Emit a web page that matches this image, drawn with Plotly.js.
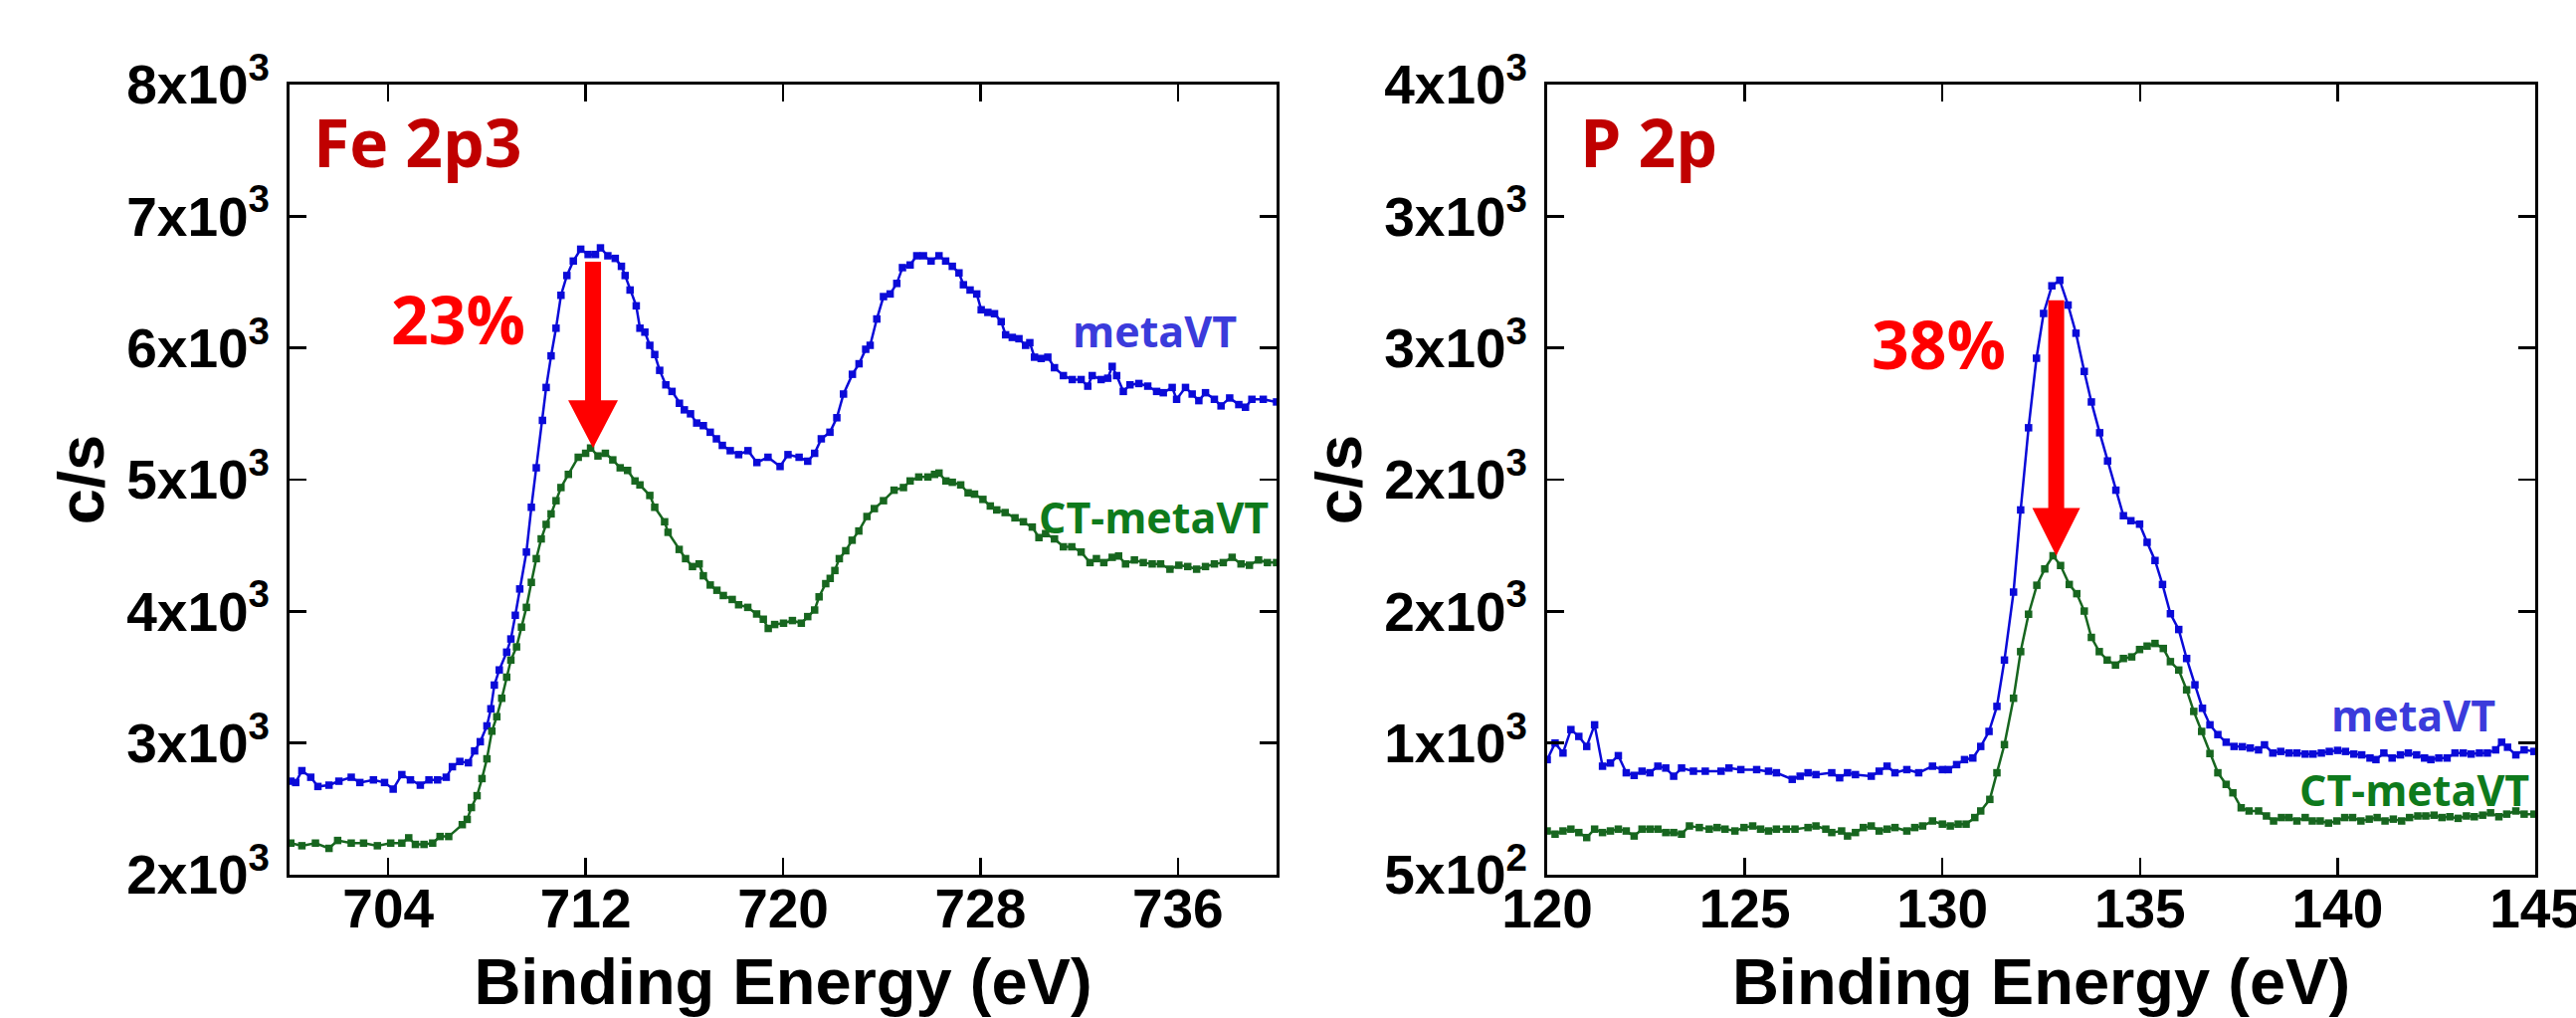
<!DOCTYPE html>
<html>
<head>
<meta charset="utf-8">
<script src="https://cdn.plot.ly/plotly-3.0.1.min.js"></script>
<style>html,body{margin:0;padding:0;background:#fff;}#chart{width:2589px;height:1023px;}</style>
</head>
<body>
<div id="chart"></div>
<script>
// ---------- Fe 2p3 panel ----------
const feMetaX = [700.05,700.25,700.5,700.86,701.15,701.6,702.0,702.5,702.85,703.4,703.85,704.2,704.55,704.9,705.3,705.65,706.0,706.35,706.6,706.9,707.25,707.5,707.73,708.0,708.16,708.3,708.5,708.8,708.97,709.15,709.33,709.6,709.8,710.0,710.25,710.4,710.6,710.8,711.0,711.24,711.5,711.8,712.1,712.4,712.6,712.9,713.2,713.45,713.6,713.8,714.05,714.2,714.4,714.6,714.8,715.0,715.25,715.5,715.8,716.0,716.25,716.5,716.77,717.05,717.3,717.54,717.86,718.2,718.58,718.94,719.39,719.88,720.2,720.65,721.0,721.28,721.55,721.9,722.18,722.45,722.81,723.08,723.35,723.53,723.8,724.07,724.34,724.61,724.84,725.15,725.42,725.69,726.0,726.32,726.59,726.86,727.13,727.31,727.58,727.85,728.03,728.3,728.57,728.84,729.02,729.29,729.56,729.83,730.0,730.19,730.46,730.73,731.0,731.36,731.72,732.08,732.35,732.53,732.89,733.16,733.34,733.52,733.79,734.06,734.42,734.78,735.14,735.41,735.77,735.95,736.31,736.58,736.85,737.12,737.48,737.75,738.1,738.47,738.74,739.0,739.46,740.0];
const feMetaY = [2710,2700,2790,2740,2670,2680,2710,2740,2700,2720,2700,2650,2760,2720,2680,2720,2720,2740,2820,2860,2850,2940,3010,3130,3260,3440,3555,3690,3790,3970,4170,4450,4790,5090,5450,5700,5940,6150,6400,6550,6660,6750,6710,6710,6760,6700,6680,6620,6550,6440,6320,6150,6120,6020,5950,5830,5720,5670,5580,5530,5500,5430,5410,5360,5310,5260,5220,5190,5220,5130,5170,5100,5190,5170,5140,5200,5310,5360,5470,5650,5800,5880,5990,6020,6220,6390,6410,6490,6610,6630,6700,6700,6660,6700,6660,6620,6570,6480,6440,6410,6290,6270,6260,6200,6100,6080,6070,6020,6040,5930,5920,5930,5850,5790,5760,5760,5710,5790,5760,5770,5860,5790,5670,5720,5730,5710,5670,5660,5700,5610,5700,5650,5600,5660,5610,5560,5620,5570,5550,5610,5610,5590];
const feCtX = [700.05,700.5,701.05,701.6,701.95,702.5,703.0,703.56,704.1,704.55,704.83,705.1,705.45,705.8,706.1,706.45,707.0,707.2,707.37,707.6,707.8,708.0,708.2,708.4,708.6,708.8,708.97,709.2,709.4,709.6,709.8,710.0,710.2,710.4,710.6,710.8,711.0,711.3,711.7,712.0,712.2,712.5,712.8,713.1,713.4,713.7,714.0,714.2,714.6,714.8,715.2,715.34,715.79,716.05,716.33,716.6,716.77,717.05,717.32,717.58,717.94,718.2,718.57,718.93,719.2,719.4,719.66,720.02,720.38,720.74,721.0,721.28,721.46,721.73,721.91,722.1,722.28,722.54,722.8,723.07,723.4,723.7,724.07,724.5,724.88,725.15,725.5,725.87,726.14,726.32,726.6,726.86,727.2,727.5,727.76,728.1,728.4,728.66,729.0,729.4,729.74,730.1,730.37,730.64,731.0,731.36,731.7,732.08,732.44,732.7,733.0,733.34,733.6,733.88,734.24,734.6,734.96,735.3,735.68,736.04,736.4,736.76,737.12,737.48,737.84,738.2,738.56,738.9,739.27,739.63,740.0];
const feCtY = [2240,2220,2240,2200,2260,2240,2240,2220,2240,2240,2280,2230,2230,2240,2290,2290,2380,2420,2510,2600,2730,2880,3090,3200,3340,3500,3630,3730,3880,4030,4220,4400,4550,4660,4740,4840,4940,5040,5170,5200,5240,5180,5200,5150,5090,5070,4990,4960,4880,4790,4680,4600,4470,4400,4340,4360,4270,4200,4160,4120,4090,4050,4030,3980,3940,3870,3900,3910,3930,3910,3960,4010,4110,4210,4250,4310,4400,4460,4540,4610,4720,4780,4840,4920,4940,4990,5020,5020,5040,5050,4990,4980,4960,4900,4890,4850,4800,4770,4750,4710,4680,4640,4560,4590,4550,4490,4490,4450,4370,4400,4370,4410,4420,4360,4390,4370,4360,4360,4320,4350,4340,4320,4340,4360,4370,4410,4360,4350,4390,4370,4370];
const feTickVals = [2000,3000,4000,5000,6000,7000,8000];
const feTickText = ["2x10<sup>3</sup>","3x10<sup>3</sup>","4x10<sup>3</sup>","5x10<sup>3</sup>","6x10<sup>3</sup>","7x10<sup>3</sup>","8x10<sup>3</sup>"];
const feXTicks = [704,712,720,728,736];

// ---------- P 2p panel ----------
const pMetaX = [120.0,120.2,120.4,120.6,120.8,121.0,121.2,121.4,121.6,121.8,122.0,122.2,122.4,122.6,122.8,123.0,123.2,123.4,123.7,124.0,124.4,124.6,124.9,125.3,125.6,125.8,126.2,126.4,126.6,126.8,127.2,127.4,127.6,127.8,128.2,128.4,128.6,128.8,129.1,129.4,129.75,130.0,130.15,130.36,130.56,130.77,130.97,131.18,131.38,131.57,131.8,131.98,132.18,132.38,132.56,132.77,132.97,133.18,133.38,133.59,133.77,133.98,134.18,134.39,134.58,134.77,134.99,135.18,135.38,135.57,135.77,135.98,136.18,136.39,136.58,136.77,136.97,137.18,137.38,137.59,137.79,138.0,138.15,138.36,138.56,138.77,138.97,139.18,139.38,139.59,139.79,140.0,140.2,140.41,140.61,140.82,140.97,141.17,141.38,141.59,141.79,142.0,142.2,142.36,142.56,142.77,142.97,143.18,143.38,143.59,143.79,144.0,144.15,144.3,144.51,144.72,144.97];
const pMetaY = [937,1000,962,1051,1025,987,1069,912,924,952,887,877,893,887,912,905,874,905,893,893,893,905,899,899,893,887,862,874,887,880,887,868,887,880,874,893,912,887,899,887,912,899,899,918,937,943,987,1044,1139,1315,1573,1885,2197,2461,2631,2736,2757,2663,2556,2411,2295,2178,2071,1960,1863,1844,1831,1762,1693,1602,1491,1431,1321,1221,1132,1069,1032,1003,987,986,981,974,993,962,968,962,962,958,958,962,968,972,968,958,955,943,937,962,943,955,962,955,943,937,943,943,962,962,958,962,962,974,1003,984,955,974,968];
const pCtX = [120.0,120.2,120.4,120.6,120.8,121.0,121.2,121.4,121.6,121.8,122.0,122.2,122.4,122.6,122.8,123.0,123.2,123.4,123.6,123.85,124.1,124.3,124.5,124.75,124.98,125.2,125.4,125.6,125.8,126.05,126.27,126.6,126.8,127.05,127.2,127.45,127.6,127.8,128.0,128.2,128.4,128.6,128.8,129.1,129.3,129.5,129.75,130.0,130.2,130.4,130.6,130.82,130.97,131.2,131.38,131.57,131.8,131.98,132.18,132.39,132.59,132.8,132.99,133.21,133.4,133.59,133.77,133.97,134.17,134.38,134.58,134.79,134.99,135.18,135.38,135.59,135.77,135.98,136.18,136.36,136.56,136.77,136.97,137.18,137.35,137.56,137.76,138.0,138.2,138.38,138.58,138.77,138.97,139.18,139.36,139.56,139.77,139.98,140.18,140.38,140.59,140.8,141.0,141.2,141.41,141.62,141.82,142.03,142.23,142.44,142.64,142.84,143.05,143.26,143.46,143.67,143.87,144.08,144.28,144.51,144.72,144.97];
const pCtY = [666,654,666,673,660,641,673,660,666,673,666,647,673,673,673,660,660,654,685,679,673,679,673,666,679,685,673,666,673,673,673,679,685,673,660,666,647,660,679,685,666,673,679,666,679,685,704,692,685,692,692,717,742,786,887,994,1170,1347,1489,1599,1661,1711,1674,1602,1567,1501,1401,1347,1315,1296,1321,1327,1355,1368,1378,1359,1309,1277,1202,1120,1044,960,887,843,811,754,742,742,723,704,717,717,704,717,704,704,696,704,717,717,704,711,717,704,711,704,717,723,723,726,717,720,714,723,720,726,735,720,730,742,730,730];
const pTickVals = [500,1000,1500,2000,2500,3000,3500];
const pTickText = ["5x10<sup>2</sup>","1x10<sup>3</sup>","2x10<sup>3</sup>","2x10<sup>3</sup>","3x10<sup>3</sup>","3x10<sup>3</sup>","4x10<sup>3</sup>"];
const pXTicks = [120,125,130,135,140,145];

const seriesNames = ["metaVT","CT-metaVT"];
const panelLabels = ["Fe 2p3","P 2p"];
const dropLabels = ["23%","38%"];

// ---------- styles ----------
const W = 2589, H = 1023;
const BLUE = "#0a0ad8", GREEN = "#17661f";
const BLUE_TXT = "#3b3bdb", GREEN_TXT = "#0e7a1c";
const dom1 = [291/W, 1283/W], dom2 = [1555/W, 2548/W];
const ydom = [(H-879)/H, (H-85)/H];
const feRange = [2000,8000], pRange = [500,3500];

function tr(x, y, color, name, xa, ya) {
  return {x: x, y: y, type: "scatter", mode: "lines+markers", name: name,
    xaxis: xa, yaxis: ya, showlegend: false,
    line: {color: color, width: 2.5},
    marker: {color: color, size: 7.5, symbol: "square"}};
}
const data = [
  tr(feMetaX, feMetaY, BLUE, seriesNames[0], "x", "y"),
  tr(feCtX, feCtY, GREEN, seriesNames[1], "x", "y"),
  tr(pMetaX, pMetaY, BLUE, seriesNames[0], "x2", "y2"),
  tr(pCtX, pCtY, GREEN, seriesNames[1], "x2", "y2")
];

const tickFont = {family: "Liberation Sans, Arial, sans-serif", size: 55, color: "#000", weight: "bold"};
const titleFont = {family: "Liberation Sans, Arial, sans-serif", size: 65, color: "#000", weight: "bold"};
function xax(dom, range, ticks, anchor) {
  return {domain: dom, range: range, tickvals: ticks, ticktext: ticks.map(String), anchor: anchor,
    showline: true, linewidth: 3, linecolor: "#000", mirror: "ticks",
    ticks: "inside", ticklen: 17, tickwidth: 2.5, tickcolor: "#000",
    showgrid: false, zeroline: false, tickfont: tickFont, ticklabelstandoff: -16,
    ticklabeloverflow: "allow",
    title: {text: "Binding Energy (eV)", font: titleFont, standoff: 46}};
}
function yax(range, vals, text, anchor) {
  return {domain: ydom, range: range, tickvals: vals, ticktext: text, anchor: anchor,
    showline: true, linewidth: 3, linecolor: "#000", mirror: "ticks",
    ticks: "inside", ticklen: 17, tickwidth: 2.5, tickcolor: "#000",
    showgrid: false, zeroline: false, tickfont: tickFont, ticklabelstandoff: 6,
    ticklabeloverflow: "allow",
    title: {text: "c/s", font: titleFont, standoff: 2}};
}

// arrows from blue peak down to green peak (derived from data)
function arrow(xC, yC, yM, xa, ya, range, gap, dx, headHalf, headH, shaftHalf) {
  const iMax = yC.indexOf(Math.max(...yC));
  const plotH = (ydom[1]-ydom[0]) * H;
  const pxPer = plotH / (range[1]-range[0]);
  const L = (Math.max(...yM) - yC[iMax]) * pxPer - gap;
  const p = `M0,0 L${-headHalf},${headH} L${-shaftHalf},${headH} L${-shaftHalf},${L} L${shaftHalf},${L} L${shaftHalf},${headH} L${headHalf},${headH} Z`;
  return {type: "path", xref: xa, yref: ya, xsizemode: "pixel", ysizemode: "pixel",
    xanchor: xC[iMax] + dx, yanchor: yC[iMax],
    path: p, fillcolor: "#ff0000", line: {width: 0}, layer: "above"};
}

const txtFont = (size, color) => ({family: "Open Sans, Noto Sans, sans-serif", size: size, color: color, weight: "bold"});
function ann(text, x, y, size, color, xanchor) {
  return {text: text, xref: "paper", yref: "paper", x: x/W, y: 1 - y/H,
    xanchor: xanchor || "center", yanchor: "middle", showarrow: false, font: txtFont(size, color)};
}

const layout = {
  width: W, height: H, margin: {l: 0, r: 0, t: 0, b: 0},
  paper_bgcolor: "#fff", plot_bgcolor: "#fff", showlegend: false,
  xaxis: xax(dom1, [700,740], feXTicks, "y"),
  yaxis: yax(feRange, feTickVals, feTickText, "x"),
  xaxis2: xax(dom2, [120,145], pXTicks, "y2"),
  yaxis2: yax(pRange, pTickVals, pTickText, "x2"),
  shapes: [
    arrow(feCtX, feCtY, feMetaY, "x", "y", feRange, 14, 0.1, 25, 48, 8),
    arrow(pCtX, pCtY, pMetaY, "x2", "y2", pRange, 20, 0.08, 24, 48, 8)
  ],
  annotations: [
    ann(panelLabels[0], 313, 142, 66, "#c00000", "left"),
    ann(dropLabels[0], 460, 320, 66, "#ff0000"),
    ann(seriesNames[0], 1160, 333, 43, BLUE_TXT),
    ann(seriesNames[1], 1159, 519, 43, GREEN_TXT),
    ann(panelLabels[1], 1586, 142, 66, "#c00000", "left"),
    ann(dropLabels[1], 1949, 345, 66, "#ff0000"),
    ann(seriesNames[0], 2425, 718, 43, BLUE_TXT),
    ann(seriesNames[1], 2426, 793, 43, GREEN_TXT)
  ]
};

Plotly.newPlot("chart", data, layout, {staticPlot: true, displayModeBar: false});
</script>
</body>
</html>
